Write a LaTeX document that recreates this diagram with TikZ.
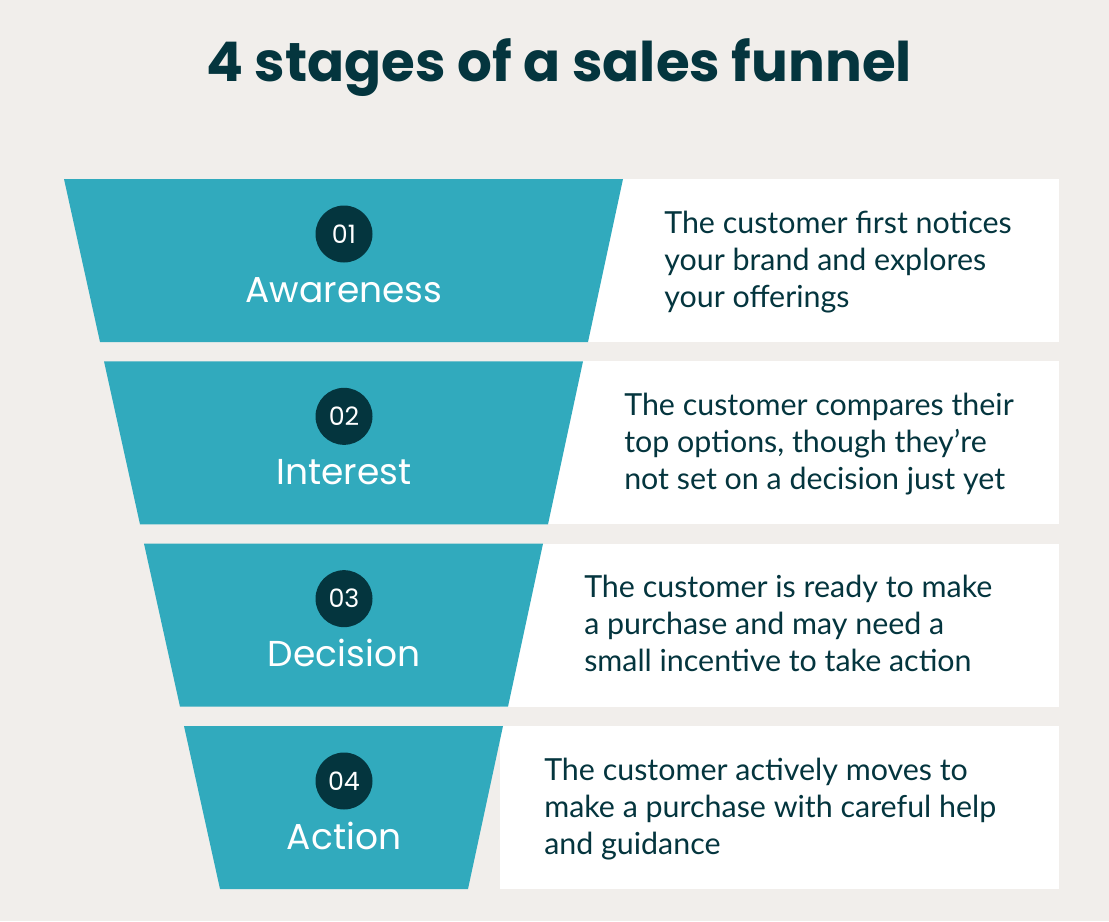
\documentclass[tikz,border=0pt]{standalone}
\usepackage{fontspec}
\setmainfont{Lato}
\newfontfamily\headfont{Poppins}
\definecolor{bgcream}{HTML}{F1EEEB}
\definecolor{funnelteal}{HTML}{31AABD}
\definecolor{darkteal}{HTML}{04353E}
\begin{document}
\begin{tikzpicture}[
    x=0.75pt, y=-0.75pt,
    funnel part/.style={fill=funnelteal},
    text box/.style={fill=white},
    badge/.style={circle, fill=darkteal, text=white, inner sep=0pt,
        minimum size=42.75pt, font=\headfont\fontsize{19}{19}\selectfont},
    stage label/.style={text=white, anchor=base, inner sep=0pt,
        font=\headfont\fontsize{27}{27}\selectfont},
    desc/.style={text=darkteal, anchor=base west, align=left, inner sep=0pt,
        font=\fontsize{22.8}{27.75}\selectfont},
    ]
\fill[bgcream] (0,0) rectangle (1109,921);
\useasboundingbox (0,0) rectangle (1109,921);
\node[text=darkteal, anchor=base, inner sep=0pt,
    font=\headfont\bfseries\fontsize{41}{41}\selectfont] (title) at (559,81)
    {4 stages of a sales funnel};
\foreach \i/\name/\txt in {
    1/Awareness/{The customer first notices\\your brand and explores\\your offerings},
    2/Interest/{The customer compares their\\top options, though they’re\\not set on a decision just yet},
    3/Decision/{The customer is ready to make\\a purchase and may need a\\small incentive to take action},
    4/Action/{The customer actively moves to\\make a purchase with careful help\\and guidance}} {
  \pgfmathsetmacro{\s}{40*(\i-1)}
  \pgfmathsetmacro{\t}{179+182.33*(\i-1)}
  \fill[text box] (500,\t) rectangle (1059,\t+163);
  \fill[funnel part] (64+\s,\t) -- (623-\s,\t) -- (588-\s,\t+163)
      -- (100+\s,\t+163) -- cycle;
  \node[badge] (badge\i) at (344,\t+55) {0\i};
  \node[stage label] (stage\i) at (344,\t+123) {\name};
  % base anchor sits on the last of the three lines
  \node[desc] (desc\i) at (664-\s,\t+128) {\txt};
}
\end{tikzpicture}
\end{document}
